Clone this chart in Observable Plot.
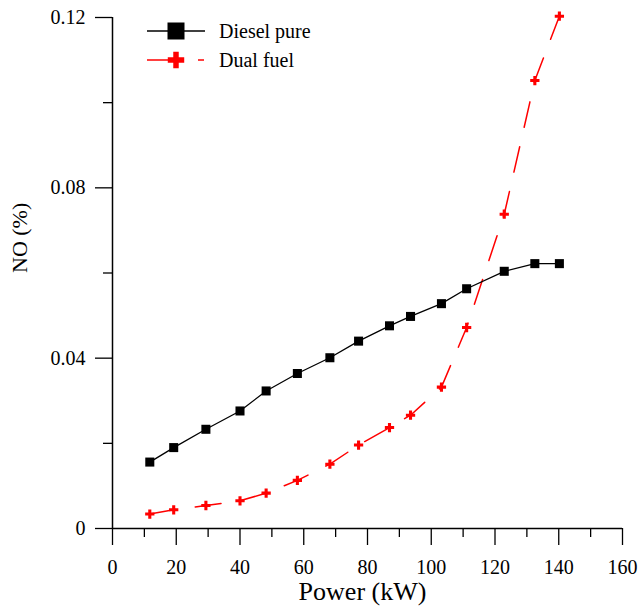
<!DOCTYPE html>
<html>
<head>
<meta charset="utf-8">
<script src="https://cdn.jsdelivr.net/npm/d3@7"></script>
<script src="https://cdn.jsdelivr.net/npm/@observablehq/plot@0.6"></script>
<style>
  html, body { margin: 0; padding: 0; background: #fff; }
  #wrap { position: relative; width: 639px; height: 613px; }
  #legend { position: absolute; left: 0; top: 0; }
  svg text { font-family: "Liberation Serif", "Times New Roman", serif; }
</style>
</head>
<body>
<div id="wrap"></div>
<script>
// Power (kW)
const power = [11.7, 19.2, 29.3, 40.0, 48.2, 58.0, 68.2, 77.2, 86.9, 93.5, 103.2, 111.1, 122.9, 132.5, 140.2];
// NO (%)
const dieselPure = [0.0156, 0.0190, 0.0233, 0.0276, 0.0323, 0.0364, 0.0401, 0.0440, 0.0476, 0.0498, 0.0528, 0.0563, 0.0604, 0.0622, 0.0622];
const dualFuel = [0.0034, 0.0044, 0.0054, 0.0065, 0.0083, 0.0113, 0.0151, 0.0196, 0.0237, 0.0266, 0.0332, 0.0472, 0.0738, 0.1052, 0.1203];
const xMajor = [0, 20, 40, 60, 80, 100, 120, 140, 160];
const xMinor = [10, 30, 50, 70, 90, 110, 130, 150];
const yMajor = [0, 0.04, 0.08, 0.12];
const yMinor = [0.02, 0.06, 0.10];
const seriesNames = ["Diesel pure", "Dual fuel"];
const xLabel = "Power (kW)";
const yLabel = "NO (%)";

const diesel = power.map((p, i) => ({x: p, y: dieselPure[i]}));
const dual = power.map((p, i) => ({x: p, y: dualFuel[i]}));

const font = '"Liberation Serif", "Times New Roman", serif';

const chart = Plot.plot({
  width: 639,
  height: 613,
  marginLeft: 112,
  marginRight: 17,
  marginTop: 17,
  marginBottom: 85,
  style: {fontFamily: font, fontSize: "20px", color: "#000", background: "#fff", overflow: "visible"},
  x: {domain: [0, 160]},
  y: {domain: [0, 0.12]},
  marks: [
    Plot.axisX({ticks: xMajor, tickSize: 17, tickPadding: 14, tickFormat: d => String(d), label: null, strokeWidth: 1.3, fontSize: 20, fontFamily: font}),
    Plot.axisX({ticks: xMinor, tickSize: 9, tickFormat: () => "", label: null, strokeWidth: 1.3}),
    Plot.axisY({ticks: yMajor, tickSize: 17, tickPadding: 10, tickFormat: d => d === 0 ? "0" : d.toFixed(2), label: null, strokeWidth: 1.3, fontSize: 20, fontFamily: font}),
    Plot.axisY({ticks: yMinor, tickSize: 9, tickFormat: () => "", label: null, strokeWidth: 1.3}),
    Plot.ruleY([0], {stroke: "#000", strokeWidth: 1.5}),
    Plot.ruleX([0], {stroke: "#000", strokeWidth: 1.5}),
    Plot.line(dual, {x: "x", y: "y", stroke: "#ff0000", strokeWidth: 1.5, strokeDasharray: "26,20"}),
    Plot.line(diesel, {x: "x", y: "y", stroke: "#000", strokeWidth: 1.3}),
    Plot.dot(diesel, {x: "x", y: "y", symbol: "square", r: 5.1, fill: "#000", stroke: "none"}),
    Plot.dot(dual, {x: "x", y: "y", symbol: "cross", r: 3.9, fill: "#ff0000", stroke: "none"}),
    Plot.text([xLabel], {frameAnchor: "bottom", text: d => d, dx: -5, dy: 71, fontSize: 26, fill: "#000", fontFamily: font}),
    Plot.text([yLabel], {frameAnchor: "left", text: d => d, dx: -93, rotate: -90, fontSize: 22, fill: "#000", fontFamily: font})
  ]
});
document.getElementById("wrap").appendChild(chart);

// Legend overlay
const legend = d3.select("#wrap").append("svg")
  .attr("id", "legend")
  .attr("width", 639).attr("height", 100);
const rows = [
  {name: seriesNames[0], y: 31, color: "#000", type: "square"},
  {name: seriesNames[1], y: 60, color: "#ff0000", type: "cross"}
];
rows.forEach(r => {
  const g = legend.append("g");
  if (r.type === "square") {
    g.append("line").attr("x1", 147).attr("x2", 205).attr("y1", r.y).attr("y2", r.y).attr("stroke", r.color).attr("stroke-width", 1.3);
    g.append("rect").attr("x", 176 - 8.5).attr("y", r.y - 8.5).attr("width", 17).attr("height", 17).attr("fill", r.color);
  } else {
    g.append("line").attr("x1", 147).attr("x2", 168).attr("y1", r.y).attr("y2", r.y).attr("stroke", r.color).attr("stroke-width", 1.5);
    g.append("line").attr("x1", 198).attr("x2", 204).attr("y1", r.y).attr("y2", r.y).attr("stroke", r.color).attr("stroke-width", 1.5);
    g.append("path").attr("d", d3.symbol(d3.symbolCross, 150)()).attr("transform", `translate(176,${r.y})`).attr("fill", r.color);
  }
  g.append("text").attr("x", 219).attr("y", r.y + 7).attr("font-size", 20).attr("fill", "#000")
    .style("font-family", font).text(r.name);
});
</script>
</body>
</html>
